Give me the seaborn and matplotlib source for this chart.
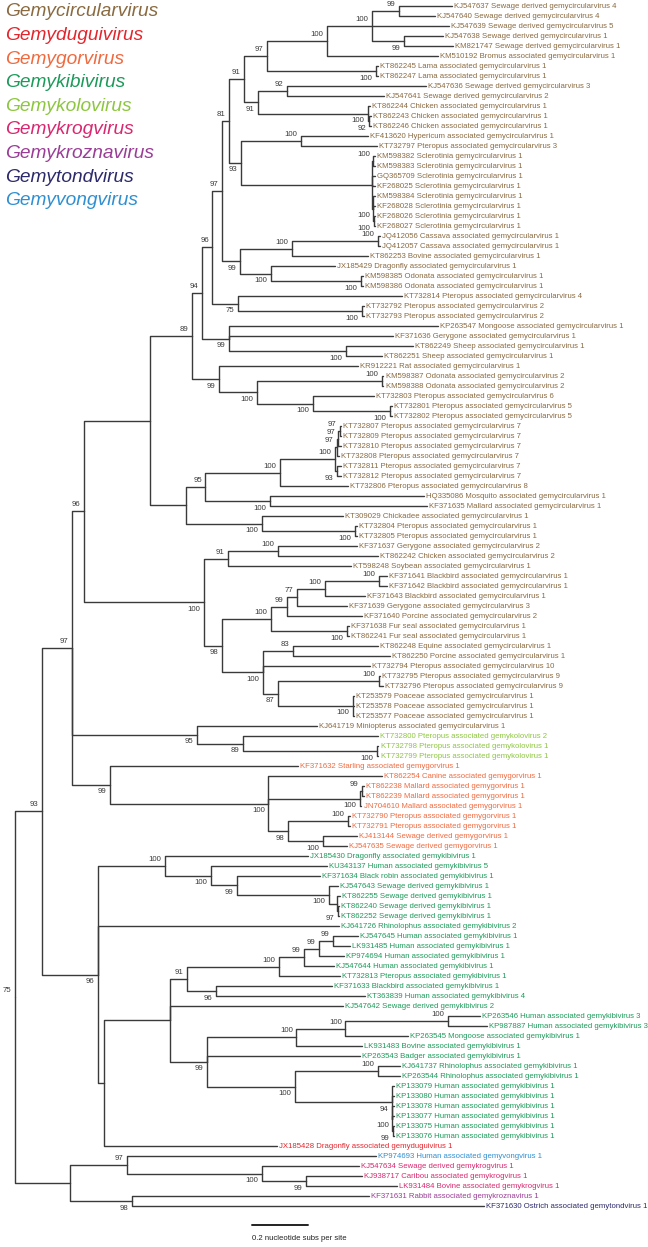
import pandas as pd
import matplotlib.pyplot as plt
import seaborn as sns
from matplotlib import font_manager

# ---- data ----
GENERA = ['Gemycircularvirus', 'Gemyduguivirus', 'Gemygorvirus', 'Gemykibivirus', 'Gemykolovirus',
          'Gemykrogvirus', 'Gemykroznavirus', 'Gemytondvirus', 'Gemyvongvirus']
GENUS_COLORS = ['#8a6a40', '#e3262d', '#f06a3f', '#1c9a5a', '#8dc63f',
                '#d8286f', '#9a3d96', '#2c2a6a', '#2f8fd0']

LEAF_IDS = [
    'KJ547637', 'KJ547640', 'KJ547639', 'KJ547638', 'KM821747', 'KM510192', 'KT862245', 'KT862247',
    'KJ547636', 'KJ547641', 'KT862244', 'KT862243', 'KT862246', 'KF413620', 'KT732797', 'KM598382',
    'KM598383', 'GQ365709', 'KF268025', 'KM598384', 'KF268028', 'KF268026', 'KF268027', 'JQ412056',
    'JQ412057', 'KT862253', 'JX185429', 'KM598385', 'KM598386', 'KT732814', 'KT732792', 'KT732793',
    'KP263547', 'KF371636', 'KT862249', 'KT862251', 'KR912221', 'KM598387', 'KM598388', 'KT732803',
    'KT732801', 'KT732802', 'KT732807', 'KT732809', 'KT732810', 'KT732808', 'KT732811', 'KT732812',
    'KT732806', 'HQ335086', 'KF371635', 'KT309029', 'KT732804', 'KT732805', 'KF371637', 'KT862242',
    'KT598248', 'KF371641', 'KF371642', 'KF371643', 'KF371639', 'KF371640', 'KF371638', 'KT862241',
    'KT862248', 'KT862250', 'KT732794', 'KT732795', 'KT732796', 'KT253579', 'KT253578', 'KT253577',
    'KJ641719', 'KT732800', 'KT732798', 'KT732799', 'KF371632', 'KT862254', 'KT862238', 'KT862239',
    'JN704610', 'KT732790', 'KT732791', 'KJ413144', 'KJ547635', 'JX185430', 'KU343137', 'KF371634',
    'KJ547643', 'KT862255', 'KT862240', 'KT862252', 'KJ641726', 'KJ547645', 'LK931485', 'KP974694',
    'KJ547644', 'KT732813', 'KF371633', 'KT363839', 'KJ547642', 'KP263546', 'KP987887', 'KP263545',
    'LK931483', 'KP263543', 'KJ641737', 'KP263544', 'KP133079', 'KP133080', 'KP133078', 'KP133077',
    'KP133075', 'KP133076', 'JX185428', 'KP974693', 'KJ547634', 'KJ938717', 'LK931484', 'KF371631',
    'KF371630']

circ = 'gemycircularvirus'
LEAF_TEXT = (
    ['Sewage derived %s 4' % circ] * 2 + ['Sewage derived %s 5' % circ] + ['Sewage derived %s 1' % circ] * 2
    + ['Bromus associated %s 1' % circ] + ['Lama associated %s 1' % circ] * 2
    + ['Sewage derived %s 3' % circ, 'Sewage derived %s 2' % circ]
    + ['Chicken associated %s 1' % circ] * 3
    + ['Hypericum associated %s 1' % circ, 'Pteropus associated %s 3' % circ]
    + ['Sclerotinia %s 1' % circ] * 8
    + ['Cassava associated %s 1' % circ] * 2 + ['Bovine associated %s 1' % circ]
    + ['Dragonfly associated %s 1' % circ] + ['Odonata associated %s 1' % circ] * 2
    + ['Pteropus associated %s 4' % circ] + ['Pteropus associated %s 2' % circ] * 2
    + ['Mongoose associated %s 1' % circ, 'Gerygone associated %s 1' % circ]
    + ['Sheep associated %s 1' % circ] * 2 + ['Rat associated %s 1' % circ]
    + ['Odonata associated %s 2' % circ] * 2 + ['Pteropus associated %s 6' % circ]
    + ['Pteropus associated %s 5' % circ] * 2 + ['Pteropus associated %s 7' % circ] * 6
    + ['Pteropus associated %s 8' % circ, 'Mosquito associated %s 1' % circ,
       'Mallard associated %s 1' % circ, 'Chickadee associated %s 1' % circ]
    + ['Pteropus associated %s 1' % circ] * 2
    + ['Gerygone associated %s 2' % circ, 'Chicken associated %s 2' % circ, 'Soybean associated %s 1' % circ]
    + ['Blackbird associated %s 1' % circ] * 3
    + ['Gerygone associated %s 3' % circ, 'Porcine associated %s 2' % circ]
    + ['Fur seal associated %s 1' % circ] * 2
    + ['Equine associated %s 1' % circ, 'Porcine associated %s 1' % circ, 'Pteropus associated %s 10' % circ]
    + ['Pteropus associated %s 9' % circ] * 2 + ['Poaceae associated %s 1' % circ] * 3
    + ['Miniopterus associated %s 1' % circ]
    + ['Pteropus associated gemykolovirus 2'] + ['Pteropus associated gemykolovirus 1'] * 2
    + ['Starling associated gemygorvirus 1', 'Canine associated gemygorvirus 1']
    + ['Mallard associated gemygorvirus 1'] * 3 + ['Pteropus associated gemygorvirus 1'] * 2
    + ['Sewage derived gemygorvirus 1'] * 2
    + ['Dragonfly associated gemykibivirus 1', 'Human associated gemykibivirus 5',
       'Black robin associated gemykibivirus 1']
    + ['Sewage derived gemykibivirus 1'] * 4 + ['Rhinolophus associated gemykibivirus 2']
    + ['Human associated gemykibivirus 1'] * 4 + ['Pteropus associated gemykibivirus 1']
    + ['Blackbird associated gemykibivirus 1', 'Human associated gemykibivirus 4',
       'Sewage derived gemykibivirus 2']
    + ['Human associated gemykibivirus 3'] * 2
    + ['Mongoose associated gemykibivirus 1', 'Bovine associated gemykibivirus 1',
       'Badger associated gemykibivirus 1']
    + ['Rhinolophus associated gemykibivirus 1'] * 2 + ['Human associated gemykibivirus 1'] * 6
    + ['Dragonfly associated gemyduguivirus 1', 'Human associated gemyvongvirus 1',
       'Sewage derived gemykrogvirus 1', 'Caribou associated gemykrogvirus 1',
       'Bovine associated gemykrogvirus 1', 'Rabbit associated gemykroznavirus 1',
       'Ostrich associated gemytondvirus 1'])

# genus index per leaf (order of GENERA)
LEAF_GENUS = [0] * 73 + [4] * 3 + [2] * 9 + [3] * 29 + [1, 8, 5, 5, 5, 6, 7]

# distance from root of each tip (nucleotide subs per site)
LEAF_DEPTH = [
    1.561, 1.500, 1.550, 1.529, 1.564, 1.511, 1.296, 1.296, 1.468, 1.318,
    1.268, 1.271, 1.271, 1.261, 1.293, 1.286, 1.286, 1.286, 1.286, 1.286,
    1.286, 1.286, 1.286, 1.303, 1.303, 1.261, 1.143, 1.243, 1.243, 1.382,
    1.246, 1.246, 1.511, 1.350, 1.421, 1.311, 1.225, 1.316, 1.316, 1.282,
    1.345, 1.345, 1.164, 1.164, 1.164, 1.157, 1.164, 1.164, 1.189, 1.461,
    1.471, 1.171, 1.220, 1.220, 1.221, 1.296, 1.200, 1.329, 1.329, 1.250,
    1.186, 1.239, 1.193, 1.193, 1.296, 1.339, 1.268, 1.304, 1.314, 1.211,
    1.211, 1.211, 1.079, 1.296, 1.298, 1.298, 1.011, 1.311, 1.246, 1.246,
    1.237, 1.195, 1.195, 1.221, 1.186, 1.046, 1.114, 1.089, 1.154, 1.161,
    1.157, 1.157, 1.157, 1.225, 1.196, 1.175, 1.139, 1.161, 1.132, 1.250,
    1.171, 1.661, 1.686, 1.404, 1.239, 1.232, 1.375, 1.375, 1.352, 1.352,
    1.352, 1.352, 1.352, 1.352, 0.936, 1.289, 1.229, 1.239, 1.364, 1.264,
    1.675]

# internal nodes: name, children, bootstrap, distance from root
CLADES = [
    ('A', ['KJ547637', 'KJ547640'], 99, 1.371),
    ('B', ['KJ547638', 'KM821747'], 99, 1.389),
    ('C', ['A', 'KJ547639', 'B'], 100, 1.275),
    ('D', ['C', 'KM510192'], 100, 1.114),
    ('F', ['KT862245', 'KT862247'], 100, 1.289),
    ('E', ['D', 'F'], 97, 0.900),
    ('G', ['KJ547636', 'KJ547641'], 92, 0.971),
    ('K', ['KT862243', 'KT862246'], 92, 1.266),
    ('J', ['KT862244', 'K'], 100, 1.261),
    ('I', ['G', 'J'], 91, 0.868),
    ('H', ['E', 'I'], 91, 0.818),
    ('N', ['KF413620', 'KT732797'], 100, 1.021),
    ('P', ['KM598382', 'KM598383'], 100, 1.280),
    ('R', ['KF268026', 'KF268027'], 100, 1.282),
    ('Q', ['KM598384', 'KF268028', 'R'], 100, 1.279),
    ('O', ['P', 'GQ365709', 'KF268025', 'Q'], None, 1.275),
    ('M', ['N', 'O'], 93, 0.807),
    ('L', ['H', 'M'], 81, 0.764),
    ('Ya', ['JQ412056', 'JQ412057'], 100, 1.296),
    ('Y', ['Ya', 'KT862253'], 100, 0.989),
    ('Za', ['KM598385', 'KM598386'], 100, 1.236),
    ('Z', ['JX185429', 'Za'], 100, 0.914),
    ('T', ['Y', 'Z'], 99, 0.804),
    ('S', ['L', 'T'], 97, 0.739),
    ('Va', ['KT732792', 'KT732793'], 100, 1.239),
    ('V', ['KT732814', 'Va'], 75, 0.796),
    ('U', ['S', 'V'], 96, 0.704),
    ('AAa', ['KT862249', 'KT862251'], 100, 1.182),
    ('AA', ['KP263547', 'KF371636', 'AAa'], 99, 0.764),
    ('W', ['U', 'AA'], 94, 0.668),
    ('EE', ['KM598387', 'KM598388'], 100, 1.311),
    ('GG', ['KT732801', 'KT732802'], 100, 1.339),
    ('FF', ['KT732803', 'GG'], 100, 1.064),
    ('DD', ['EE', 'FF'], 100, 0.864),
    ('CC', ['KR912221', 'DD'], 99, 0.729),
    ('X', ['W', 'CC'], 89, 0.632),
    ('MM', ['KT732807', 'KT732809'], 97, 1.159),
    ('LL', ['MM', 'KT732810'], 97, 1.155),
    ('KK', ['LL', 'KT732808'], 97, 1.150),
    ('JJ', ['KT732811', 'KT732812'], 93, 1.150),
    ('HH', ['KK', 'JJ'], 100, 1.143),
    ('NN', ['HH', 'KT732806'], 100, 0.946),
    ('PP', ['HQ335086', 'KF371635'], 100, 0.911),
    ('OO', ['NN', 'PP'], 95, 0.679),
    ('RR', ['KT732804', 'KT732805'], 100, 1.214),
    ('QQ', ['KT309029', 'RR'], 100, 0.882),
    ('SS', ['OO', 'QQ'], None, 0.611),
    ('TT', ['KF371637', 'KT862242'], 100, 0.939),
    ('UU', ['TT', 'KT598248'], 91, 0.761),
    ('VV', ['KF371641', 'KF371642'], 100, 1.300),
    ('WW', ['VV', 'KF371643'], 100, 1.107),
    ('XX', ['WW', 'KF371639'], 77, 1.007),
    ('YY', ['XX', 'KF371640'], 99, 0.971),
    ('ZZa', ['KF371638', 'KT862241'], 100, 1.186),
    ('ZZ', ['YY', 'ZZa'], 100, 0.914),
    ('AD', ['KT862248', 'KT862250'], 83, 0.993),
    ('AF', ['KT732795', 'KT732796'], 100, 1.300),
    ('AG', ['KT253579', 'KT253578', 'KT253577'], 100, 1.207),
    ('AE', ['AF', 'AG'], 87, 0.939),
    ('AC', ['AD', 'KT732794', 'AE'], 100, 0.886),
    ('AB', ['ZZ', 'AC'], 98, 0.739),
    ('AJ', ['UU', 'AB'], 100, 0.675),
    ('AKa', ['KT732798', 'KT732799'], 100, 1.293),
    ('AK', ['KT732800', 'AKa'], 89, 0.814),
    ('AL', ['KJ641719', 'AK'], 95, 0.650),
    ('ANa', ['KT862238', 'KT862239'], 99, 1.239),
    ('AN', ['ANa', 'JN704610'], 100, 1.232),
    ('AOa', ['KT732790', 'KT732791'], 100, 1.189),
    ('AP', ['KJ413144', 'KJ547635'], 100, 1.100),
    ('AO', ['AOa', 'AP'], 98, 0.975),
    ('AM', ['KT862254', 'AN', 'AO'], 100, 0.904),
    ('GOR', ['KF371632', 'AM'], 99, 0.339),
    ('AU', ['KT862240', 'KT862252'], 97, 1.154),
    ('AT', ['KT862255', 'AU'], None, 1.150),
    ('AS', ['KJ547643', 'AT'], 100, 1.121),
    ('AR', ['KF371634', 'AS'], 99, 0.793),
    ('AQ', ['KU343137', 'AR'], 100, 0.700),
    ('K1', ['JX185430', 'AQ'], 100, 0.536),
    ('BA', ['KJ547645', 'LK931485'], 99, 1.136),
    ('AZ', ['BA', 'KP974694'], 99, 1.086),
    ('AY', ['AZ', 'KJ547644'], 99, 1.032),
    ('AW', ['AY', 'KT732813'], 100, 0.943),
    ('AX', ['KF371633', 'KT363839'], 96, 0.718),
    ('AV', ['AW', 'AX'], 91, 0.614),
    ('BCa', ['KP263546', 'KP987887'], 100, 1.546),
    ('BCb', ['BCa', 'KP263545'], 100, 1.179),
    ('BC', ['BCb', 'LK931483'], 100, 1.004),
    ('BDa', ['KJ641737', 'KP263544'], 100, 1.296),
    ('BDc', ['KP133075', 'KP133076'], 99, 1.350),
    ('BDd', ['KP133078', 'KP133077', 'BDc'], 100, 1.348),
    ('BDb', ['KP133079', 'KP133080', 'BDd'], 94, 1.346),
    ('BD', ['BDa', 'BDb'], 100, 1.000),
    ('BB', ['BC', 'KP263543', 'BD'], 99, 0.686),
    ('K3', ['AV', 'KJ547642', 'BB'], None, 0.554),
    ('DUG', ['K3', 'JX185428'], None, 0.318),
    ('KIBI', ['K1', 'KJ641726', 'DUG'], 96, 0.296),
    ('KR2', ['KJ938717', 'LK931484'], 99, 1.039),
    ('KR', ['KJ547634', 'KR2'], 100, 0.882),
    ('B97', ['KP974693', 'KR'], 97, 0.400),
    ('B98', ['KF371631', 'KF371630'], 98, 0.418),
    ('BOT', ['B97', 'B98'], None, 0.196),
    ('C1', ['X', 'SS'], None, 0.482),
    ('CIRC', ['C1', 'AJ'], 96, 0.246),
    ('N97', ['CIRC', 'AL', 'GOR'], 97, 0.204),
    ('N93', ['N97', 'KIBI'], 93, 0.096),
    ('ROOT', ['N93', 'BOT'], 75, 0.000),
]

SCALE_LEN = 0.2

# ---- layout helpers ----
installed = {f.name for f in font_manager.fontManager.ttflist}
NARROW = 'Liberation Sans Narrow' if 'Liberation Sans Narrow' in installed else 'Liberation Sans'
label_size = 6.6 if NARROW == 'Liberation Sans Narrow' else 5.6

clades = {name: (kids, sup, dep) for name, kids, sup, dep in CLADES}
xpos = dict(zip(LEAF_IDS, LEAF_DEPTH))
ypos = {leaf: i for i, leaf in enumerate(LEAF_IDS)}


def place(node):
    if node in clades:
        kids, sup, dep = clades[node]
        ys = [place(k) for k in kids]
        ypos[node] = (min(ys) + max(ys)) / 2
        xpos[node] = dep
    return ypos[node]


place('ROOT')

rows = []
seg = 0
for name, (kids, sup, dep) in clades.items():
    for k in kids:
        rows += [(seg, xpos[name], ypos[name]), (seg, xpos[name], ypos[k]), (seg, xpos[k], ypos[k])]
        seg += 1
edges = pd.DataFrame(rows, columns=['seg', 'x', 'y'])

sns.set_style('white')
fig = plt.figure(figsize=(6.48, 12.47), dpi=100)
ax = fig.add_axes([0, 0, 1, 1])
sns.lineplot(data=edges, x='x', y='y', units='seg', estimator=None, sort=False,
             color='#3a3a3a', linewidth=1.0, ax=ax, legend=False)

ax.set_xlim(-15 / 280, 633 / 280)
ax.set_ylim(124.1, -0.6)
ax.axis('off')

# tip labels
for leaf, text, g in zip(LEAF_IDS, LEAF_TEXT, LEAF_GENUS):
    ax.text(xpos[leaf] + 0.008, ypos[leaf], '%s %s' % (leaf, text), color=GENUS_COLORS[g],
            fontsize=label_size, family=NARROW, va='center', ha='left')

# bootstrap values: upper child labelled above its branch, others below
parent_of = {}
for name, (kids, sup, dep) in clades.items():
    for i, k in enumerate(kids):
        parent_of[k] = i
for name, (kids, sup, dep) in clades.items():
    if sup is None:
        continue
    above = parent_of.get(name, 0) == 0
    ax.text(xpos[name] - 0.012, ypos[name] + (-0.3 if above else 0.35), str(sup),
            color='#3a3a3a', fontsize=label_size, family=NARROW,
            ha='right', va='bottom' if above else 'top')

# scale bar
x0 = 0.846
ax.plot([x0, x0 + SCALE_LEN], [121.9, 121.9], color='#222222', lw=1.4)
ax.text(x0, 123.3, '0.2 nucleotide subs per site', fontsize=label_size, family=NARROW,
        color='#222222', va='center', ha='left')

# genus key
for i, (g, c) in enumerate(zip(GENERA, GENUS_COLORS)):
    fig.text(5 / 648, 1 - (12 + 23.6 * i) / 1247, g, color=c, fontsize=13.8, style='italic',
             family='Liberation Sans', va='center', ha='left')

fig.savefig('out.png', dpi=100)
